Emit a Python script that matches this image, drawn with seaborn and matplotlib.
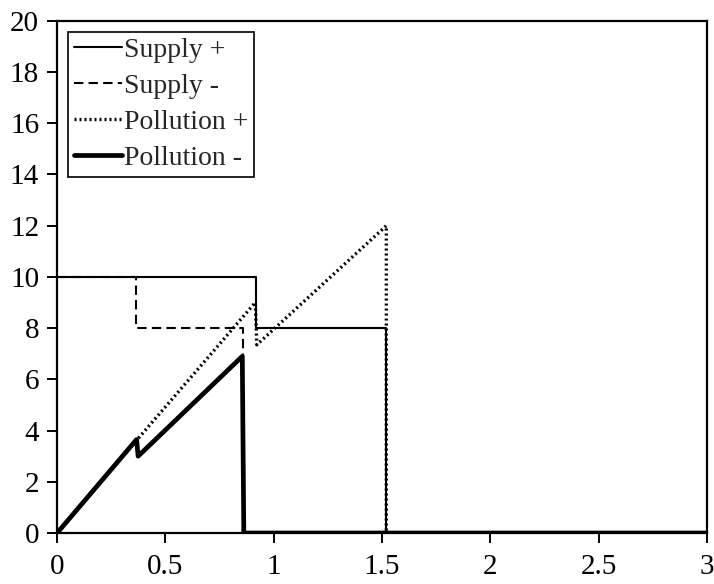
import matplotlib
matplotlib.use("Agg")
import matplotlib.pyplot as plt
import seaborn as sns
import pandas as pd

sns.set_style("ticks")
plt.rcParams['font.family'] = ['Liberation Serif', 'DejaVu Serif']

supply_plus_x = [0, 0.92, 0.92, 1.52, 1.52, 3]
supply_plus_y = [10, 10, 8, 8, 0, 0]
supply_minus_x = [0, 0.365, 0.365, 0.86, 0.86, 3]
supply_minus_y = [10, 10, 8, 8, 0, 0]
pollution_plus_x = [0, 0.37, 0.915, 0.922, 1.52, 1.52, 3]
pollution_plus_y = [0, 3.65, 9.0, 7.35, 12.0, 0, 0]
pollution_minus_x = [0, 0.367, 0.374, 0.855, 0.862, 3]
pollution_minus_y = [0, 3.65, 3.0, 6.9, 0, 0]

series = [
    ("Supply +", supply_plus_x, supply_plus_y, dict(lw=1.5, ls='-')),
    ("Supply -", supply_minus_x, supply_minus_y, dict(lw=1.5, ls=(0, (4.5, 2.5)))),
    ("Pollution +", pollution_plus_x, pollution_plus_y, dict(lw=2.4, ls=(0, (0.6, 0.9)))),
    ("Pollution -", pollution_minus_x, pollution_minus_y, dict(lw=3.4, ls='-')),
]

fig = plt.figure(figsize=(7.14, 5.84), dpi=100)
ax = fig.add_axes([0.080, 0.0873, 0.910, 0.877])

for name, xs, ys, st in series:
    df = pd.DataFrame({"x": xs, "y": ys})
    sns.lineplot(data=df, x="x", y="y", ax=ax, sort=False, estimator=None,
                 color='black', linewidth=st['lw'], linestyle=st['ls'], label=name)

ax.set_xlim(0, 3)
ax.set_ylim(0, 20)
ax.set_xticks([0, 0.5, 1, 1.5, 2, 2.5, 3])
ax.set_xticklabels(["0", "0.5", "1", "1.5", "2", "2.5", "3"])
ax.set_yticks(range(0, 21, 2))
ax.set_xlabel("")
ax.set_ylabel("")
for s in ax.spines.values():
    s.set_visible(True)
    s.set_color('black')
    s.set_linewidth(1.6)
ax.tick_params(axis='both', labelsize=21, colors='black', length=7, width=1.4,
               direction='out')
ax.tick_params(axis='y', pad=6)
ax.tick_params(axis='x', pad=8)

leg = ax.legend(loc='upper left', fontsize=20, handlelength=1.75, handletextpad=0.05,
                labelspacing=0.38, borderpad=0.2, borderaxespad=0.4,
                fancybox=False, frameon=True)
leg.get_frame().set_edgecolor('black')
leg.get_frame().set_linewidth(1.2)
leg.get_frame().set_alpha(1)

fig.savefig("out.png", dpi=100)
